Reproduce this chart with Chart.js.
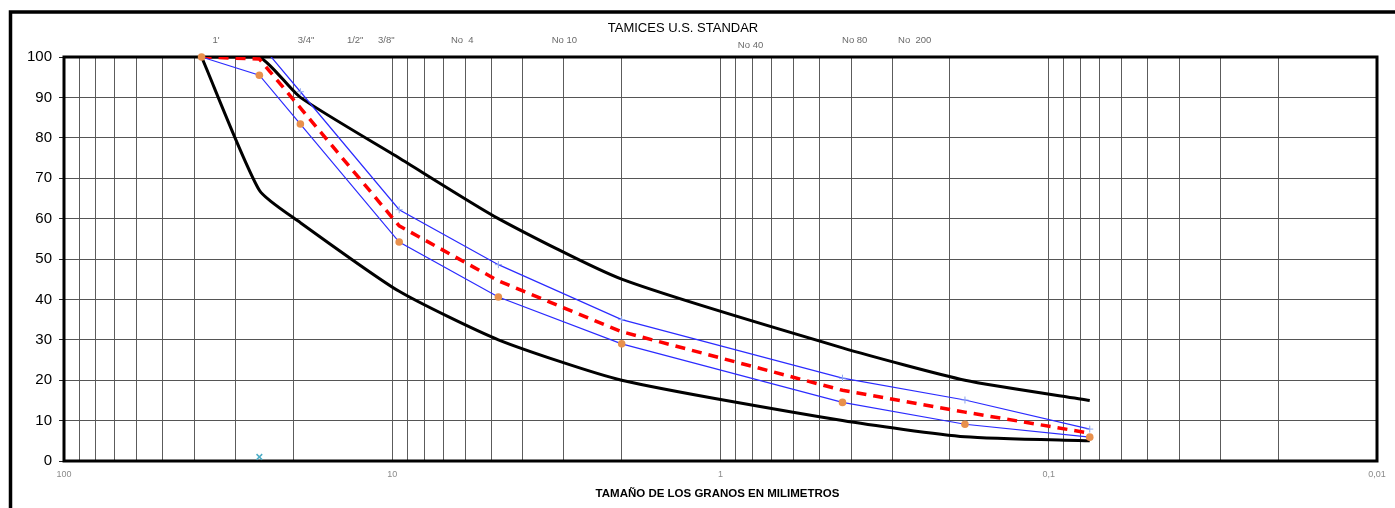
<!DOCTYPE html>
<html><head><meta charset="utf-8">
<script src="https://cdn.jsdelivr.net/npm/chart.js@4.4.1/dist/chart.umd.min.js"></script>
<style>html,body{margin:0;padding:0;background:#fff}#wrap{width:1395px;height:508px}</style>
</head><body><div id="wrap"><canvas id="c" width="1395" height="508"></canvas></div>
<script>
// ---- data ----
const sieveSizes   = [38.1, 25.4, 19.05, 9.525, 4.75, 2.0, 0.425, 0.18, 0.075];
const upperLimit   = [100, 100, 90, 75, 60, 45, 28, 20, 15];
const lowerLimit   = [100, 67, 59, 42, 30, 20, 10, 6, 5];
const upperBand    = [100, 103.5, 91.4, 62.2, 48.6, 35, 20.5, 15.1, 7.9];
const lowerBand    = [100, 95.5, 83.4, 54.2, 40.6, 29, 14.5, 9.1, 5.9];
const meanCurve    = [100, 99.5, 87.4, 58.2, 44.6, 32, 17.5, 12.1, 6.9];
const strayX = [25.4];
const strayY = [1];

const gridDecades = [0.01, 0.1, 1, 10];
const gridMultipliers = [1, 2, 3, 4, 5, 6, 7, 8, 9];
const majorTicks = [100, 10, 1, 0.1, 0.01];
const majorTickLabels = ['100', '10', '1', '0,1', '0,01'];
const yTicks = [0, 10, 20, 30, 40, 50, 60, 70, 80, 90, 100];

const sieveLabels  = ["1'", '3/4"', '1/2"', '3/8"', 'No  4', 'No 10', 'No 40', 'No 80', 'No  200'];
const sieveLabelAt = [34.4, 18.3, 12.97, 10.43, 6.12, 2.99, 0.81, 0.39, 0.256];

const chartTitle = 'TAMICES U.S. STANDAR';
const xTitle = 'TAMAÑO DE LOS GRANOS EN MILIMETROS';

// ---- build ----
const xGrid = gridDecades.flatMap(d => gridMultipliers.map(m => +(m * d).toPrecision(6))).concat([100]);
const pts = (xs, ys) => xs.map((x, i) => ({x, y: ys[i]}));
const FONT = "'Liberation Sans', Arial, sans-serif";

const decor = {
  id: 'decor',
  beforeDraw(chart) {
    const ctx = chart.ctx;
    ctx.save();
    ctx.fillStyle = '#fff';
    ctx.fillRect(0, 0, chart.width, chart.height);
    ctx.strokeStyle = '#000';
    ctx.lineWidth = 3.5;
    ctx.strokeRect(10.5, 12, 1600, 800);
    ctx.restore();
  },
  beforeDatasetsDraw(chart) {
    const ctx = chart.ctx;
    const a = chart.chartArea;
    ctx.save();
    ctx.strokeStyle = '#000';
    ctx.lineWidth = 3;
    ctx.strokeRect(a.left, a.top, a.right - a.left, a.bottom - a.top);
    ctx.restore();
  },
  afterDraw(chart) {
    const ctx = chart.ctx;
    const xs = chart.scales.x;
    const a = chart.chartArea;
    ctx.save();
    ctx.fillStyle = '#000';
    ctx.textAlign = 'center';
    ctx.textBaseline = 'middle';
    ctx.font = '13px ' + FONT;
    ctx.fillText(chartTitle, 683, 28);
    ctx.font = '9.5px ' + FONT;
    ctx.fillStyle = '#6a6a6a';
    sieveLabels.forEach((t, i) => {
      const dy = t === 'No 40' ? 5 : 0;
      ctx.fillText(t, xs.getPixelForValue(sieveLabelAt[i]), 40 + dy);
    });
    ctx.fillStyle = '#000';
    ctx.font = 'bold 11.5px ' + FONT;
    ctx.fillText(xTitle, (a.left + a.right) / 2 - 3, 494);
    ctx.restore();
  }
};

new Chart(document.getElementById('c'), {
  type: 'line',
  data: {
    datasets: [
      { label: 'stray', data: pts(strayX, strayY), showLine: false, pointStyle: 'crossRot',
        pointRadius: 4, pointBorderColor: '#4bacc6', pointBackgroundColor: '#4bacc6', pointBorderWidth: 1.5, order: 6 },
      { label: 'upperLimit', data: pts(sieveSizes, upperLimit), borderColor: '#000', borderWidth: 3,
        pointRadius: 0, tension: 0.2, order: 5 },
      { label: 'lowerLimit', data: pts(sieveSizes, lowerLimit), borderColor: '#000', borderWidth: 3,
        pointRadius: 0, tension: 0.2, order: 4 },
      { label: 'upperBand', data: pts(sieveSizes, upperBand), borderColor: '#2b2bff', borderWidth: 1.2,
        pointStyle: 'cross', pointRadius: 3.5, pointBorderColor: '#8ea6f0', pointBorderWidth: 1, tension: 0, order: 3 },
      { label: 'lowerBand', data: pts(sieveSizes, lowerBand), borderColor: '#2b2bff', borderWidth: 1.2,
        pointStyle: 'circle', pointRadius: 3.8, pointBackgroundColor: '#e8904c', pointBorderColor: '#e8904c',
        pointBorderWidth: 0, tension: 0, clip: false, order: 1 },
      { label: 'mean', data: pts(sieveSizes, meanCurve), borderColor: '#ff0000', borderWidth: 3.5,
        borderDash: [10, 7], pointRadius: 0, tension: 0, order: 2 }
    ]
  },
  options: {
    responsive: false,
    animation: false,
    layout: { padding: { top: 57, right: 18, left: 0, bottom: 0 } },
    plugins: { legend: { display: false }, tooltip: { enabled: false }, title: { display: false } },
    scales: {
      x: {
        type: 'logarithmic', reverse: true, min: 0.01, max: 100,
        afterBuildTicks: s => { s.ticks = xGrid.map(v => ({ value: v })); },
        afterFit: s => { s.height = 47; },
        border: { display: false },
        grid: { color: '#5c5c5c', lineWidth: 1, drawTicks: false },
        ticks: {
          autoSkip: false, maxRotation: 0, minRotation: 0, padding: 8,
          color: '#8a8a8a', font: { family: FONT, size: 9 },
          callback: v => {
            const i = majorTicks.findIndex(m => Math.abs(v / m - 1) < 1e-6);
            return i >= 0 ? majorTickLabels[i] : '';
          }
        }
      },
      y: {
        type: 'linear', min: 0, max: 100,
        afterBuildTicks: s => { s.ticks = yTicks.map(v => ({ value: v })); },
        afterFit: s => { s.width = 64; },
        border: { display: false },
        grid: { color: '#555', lineWidth: 1, drawTicks: true, tickLength: 5, tickColor: '#222' },
        ticks: { padding: 7, color: '#000', font: { family: FONT, size: 15 } }
      }
    }
  },
  plugins: [decor]
});
</script>
</body></html>
